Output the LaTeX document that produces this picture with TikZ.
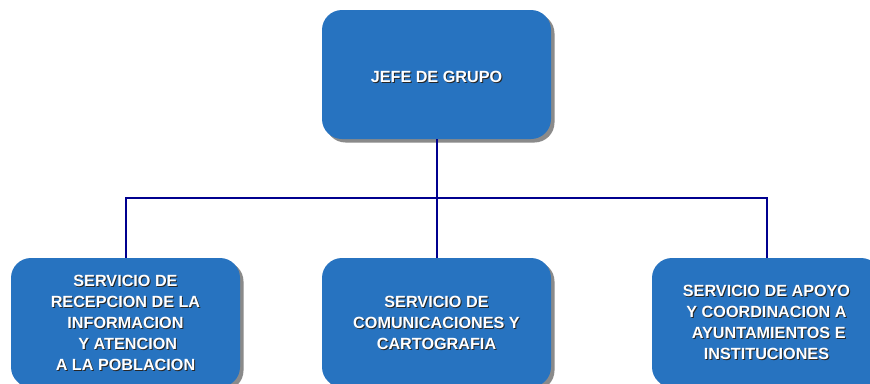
\documentclass[tikz,border=0pt]{standalone}
\usepackage{fontspec}
\setmainfont{Liberation Sans}
\usetikzlibrary{shadows}
\definecolor{boxblue}{HTML}{2773C0}
\definecolor{linenavy}{HTML}{00008F}
\definecolor{shadowgray}{HTML}{8A8A8A}
\tikzset{
  orgbox/.style={draw=none, fill=boxblue, rounded corners=20pt,
    minimum width=229pt, minimum height=129pt, inner sep=0pt,
    drop shadow={shadow xshift=3.5pt, shadow yshift=-3.5pt, fill=shadowgray, opacity=1}},
  orgtext/.style={text=white, align=center, inner sep=0pt,
    font=\bfseries\fontsize{16.2}{21}\selectfont},
  orgtextsh/.style={orgtext, text=black!85},
  conn/.style={draw=linenavy, line width=2pt}
}
\newcommand{\orgunit}[4]{%
  \node[orgbox] (#1) at (#2,#3) {};
  \node[orgtextsh] (#1-sh) at ([xshift=1pt,yshift=-1pt]#1.center) {#4};
  \node[orgtext] (#1-txt) at (#1.center) {#4};
}
\begin{document}
\begin{tikzpicture}[x=1pt,y=1pt]
\clip (0,0) rectangle (870,-383);
\fill[white] (0,0) rectangle (870,-383);
% top
\node[orgbox] (top) at (436.5,-74.5) {};
\node[orgtextsh] (top-sh) at ([xshift=1pt,yshift=-3.5pt]top.center) {JEFE DE GRUPO};
\node[orgtext] (top-txt) at ([yshift=-2.5pt]top.center) {JEFE DE GRUPO};
% bottom
\orgunit{b1}{125.5}{-322.5}{SERVICIO DE\\RECEPCION DE LA\\INFORMACION\\\ Y ATENCION\\A LA POBLACION}
\orgunit{b2}{436.5}{-322.5}{SERVICIO DE\\COMUNICACIONES Y\\CARTOGRAFIA}
\orgunit{b3}{766.5}{-322.5}{SERVICIO DE APOYO\\Y COORDINACION A\\\ AYUNTAMIENTOS E\\INSTITUCIONES}
% connectors
\coordinate (bus) at ([yshift=-59pt]top.south);
\draw[conn] (top.south) -- (bus);
\draw[conn] (b1.north) |- (bus) -| (b3.north);
\draw[conn] (bus) -- (b2.north);
\end{tikzpicture}
\end{document}
